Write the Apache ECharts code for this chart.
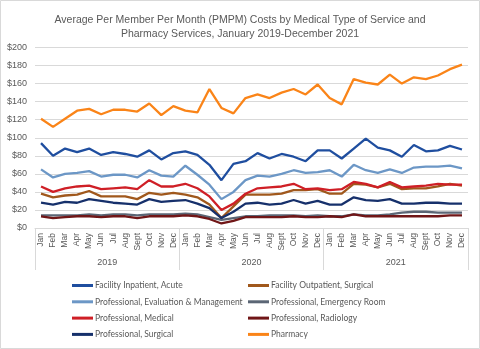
<!DOCTYPE html>
<html><head><meta charset="utf-8">
<script src="https://cdn.jsdelivr.net/npm/echarts@6/dist/echarts.min.js"></script>
<style>html,body{margin:0;padding:0;background:#fff}#c{width:480px;height:349px}</style>
</head><body><div id="c"></div>
<script>
const monthNames = ["Jan","Feb","Mar","Apr","May","Jun","Jul","Aug","Sept","Oct","Nov","Dec"];
const years = ["2019","2020","2021"];
const months = [].concat(monthNames, monthNames, monthNames);
const yTicks = [0,20,40,60,80,100,120,140,160,180,200];

const inpatientAcute = [94,80,88,84,88,81,84,82,79,86,76,83, 85,81,70,53,71,74,83,77,82,79,74,86, 86,77,88,99,89,86,79,92,85,86,91,87];
const outpatientSurgical = [38,34,36,37,41,35,35,35,32,39,37,39, 37,34,26,11,24,37,37,37,38,42,42,43, 38,38,49,48,45,49,43,44,44,46,49,47];
const profEM = [65,56,60,61,63,57,59,59,56,64,58,57, 69,59,48,32,40,53,58,57,60,64,61,62, 64,57,70,64,61,65,61,67,68,68,69,66];
const profER = [14,14,14,14,15,14,15,15,14,15,15,15, 16,15,12,9,11,13,13,14,14,14,13,14, 13,13,15,14,14,15,17,18,18,17,17,17];
const profMedical = [46,40,44,46,47,43,44,45,43,53,46,46, 49,44,35,20,27,38,44,45,46,49,43,44, 42,43,51,49,45,51,45,46,47,49,48,48];
const profRadiology = [13,11,12,13,13,12,13,13,11,13,13,13, 14,13,10,5,8,12,12,12,12,13,12,12, 13,12,15,13,13,13,13,13,13,13,14,14];
const profSurgical = [28,26,29,28,32,30,28,27,26,32,29,30, 31,27,22,11,18,27,28,26,27,31,27,30, 26,26,34,31,30,32,27,27,28,28,27,27];
const pharmacy = [121,112,121,130,132,126,131,131,129,138,125,135, 130,128,154,133,127,144,148,144,150,154,148,159, 144,137,165,161,159,170,160,167,165,169,176,181];

const seriesDefs = [
  ["Facility Inpatient, Acute", inpatientAcute, "#1F4E9F"],
  ["Facility Outpatient, Surgical", outpatientSurgical, "#A0581C"],
  ["Professional, Evaluation & Management", profEM, "#6C97C6"],
  ["Professional, Emergency Room", profER, "#5B6675"],
  ["Professional, Medical", profMedical, "#CF1F26"],
  ["Professional, Radiology", profRadiology, "#701617"],
  ["Professional, Surgical", profSurgical, "#16306B"],
  ["Pharmacy", pharmacy, "#FA8418"]
];

const FONT = "Liberation Sans, Arial, sans-serif";
const LEGFONT = "Lato, Liberation Sans, sans-serif";
const TXT = "#595959";
const chart = echarts.init(document.getElementById('c'), null, {renderer:'canvas'});

const legendCommon = {
  orient:'vertical', icon:'rect', itemWidth:21, itemHeight:3, itemGap:7.3,
  textStyle:{color:TXT, fontSize:8.5, fontFamily:LEGFONT, padding:[0,0,0,-3]},
  selectedMode:false
};

chart.setOption({
  animation:false,
  title:{
    text:"Average Per Member Per Month (PMPM) Costs by Medical Type of Service and\nPharmacy Services, January 2019-December 2021",
    left:'center', top:8,
    textStyle:{fontSize:10.5, fontWeight:'normal', color:TXT, fontFamily:FONT, lineHeight:14}
  },
  graphic:[{type:'rect', shape:{x:0.5,y:0.5,width:479,height:348}, style:{fill:null, stroke:'#d9d9d9', lineWidth:1}, silent:true}],
  grid:{left:35, right:12, top:47.5, bottom:121},
  legend:[
    Object.assign({left:67, top:276, data:seriesDefs.filter((d,i)=>i%2===0).map(d=>d[0])}, legendCommon),
    Object.assign({left:243, top:276, data:seriesDefs.filter((d,i)=>i%2===1).map(d=>d[0])}, legendCommon)
  ],
  xAxis:[
    {type:'category', data:months, boundaryGap:true,
     axisLine:{lineStyle:{color:'#d9d9d9'}}, axisTick:{show:false},
     axisLabel:{rotate:90, interval:0, fontSize:8.5, color:TXT, fontFamily:FONT, margin:5}},
    {type:'category', data:years, position:'bottom', boundaryGap:true,
     axisLine:{show:false},
     axisTick:{show:true, length:42, inside:false, lineStyle:{color:'#d9d9d9'}},
     axisLabel:{fontSize:9, color:TXT, fontFamily:FONT, margin:30}}
  ],
  yAxis:{type:'value', min:yTicks[0], max:yTicks[yTicks.length-1], interval:20,
    axisLine:{show:false}, axisTick:{show:false},
    splitLine:{lineStyle:{color:'#d9d9d9'}},
    axisLabel:{formatter:v=>'$'+v, fontSize:9, color:TXT, fontFamily:FONT, margin:8}},
  series:seriesDefs.map(d=>({name:d[0], type:'line', data:d[1], xAxisIndex:0, symbol:'none',
    lineStyle:{width:2.3, color:d[2]}, itemStyle:{color:d[2]}}))
});
</script></body></html>
